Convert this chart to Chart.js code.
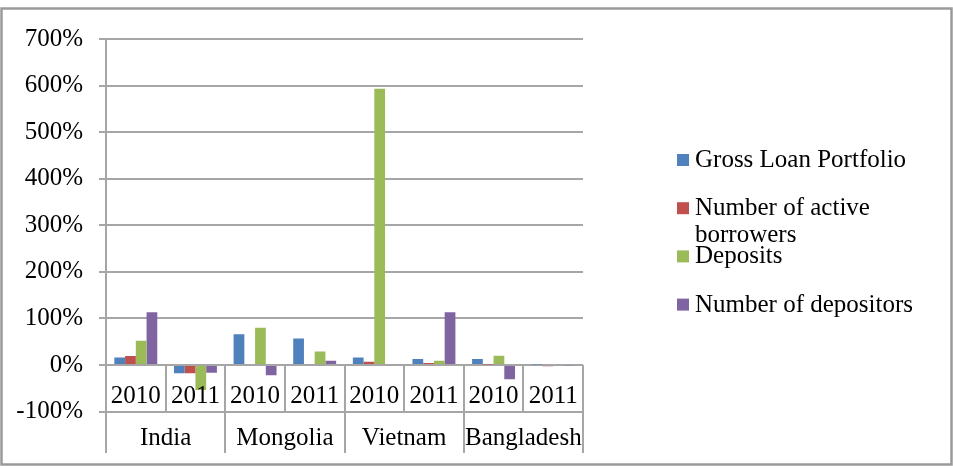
<!DOCTYPE html>
<html>
<head>
<meta charset="utf-8">
<script src="https://cdn.jsdelivr.net/npm/chart.js@4"></script>
<style>
  html, body { margin: 0; padding: 0; background: #fff; }
  #wrap { width: 953px; height: 468px; position: relative; }
</style>
</head>
<body>
<div id="wrap"><canvas id="chart" width="953" height="468"></canvas></div>
<script>
// Data
const countries = ['India', 'Mongolia', 'Vietnam', 'Bangladesh'];
const years = ['2010', '2011'];
const seriesNames = ['Gross Loan Portfolio', 'Number of active borrowers', 'Deposits', 'Number of depositors'];
const seriesColors = ['#4F81BD', '#C0504D', '#9BBB59', '#8064A2'];
const grossLoan = [16, -18, 66, 57, 16, 13, 13, 1];
const activeBorrowers = [19, -18, 0, 0, 7, 4, 1, -3];
const deposits = [52, -54, 80, 29, 593, 9, 20, 0];
const depositors = [113, -17, -22, 9, 0, 113, -31, -2];
const yTicks = [-100, 0, 100, 200, 300, 400, 500, 600, 700];

// One category per country/year pair
const labels = [];
countries.forEach(c => years.forEach(y => labels.push(c + ' ' + y)));

const seriesValues = [grossLoan, activeBorrowers, deposits, depositors];
const FONT = '"Liberation Serif", "Times New Roman", serif';
const FONT_SIZE = 25;
const gridColor = '#a6a6a6';

// Draws the outer frame, the two-level category axis and the legend
const excelBits = {
    id: 'excelBits',
    afterDraw(chart) {
        const ctx = chart.ctx;
        const x = chart.scales.x;
        const y = chart.scales.y;
        const area = chart.chartArea;
        const y0 = y.getPixelForValue(0);
        const yRow = y.getPixelForValue(-100);
        const yBottom = 453;
        const catW = (area.right - area.left) / labels.length;

        ctx.save();
        // frame
        ctx.strokeStyle = '#9a9a9a';
        ctx.lineWidth = 2.5;
        ctx.strokeRect(1.5, 8.5, 950, 456);

        // separators in the label area
        ctx.strokeStyle = gridColor;
        ctx.lineWidth = 2;
        for (let i = 0; i <= labels.length; i++) {
            const px = Math.round(area.left + i * catW);
            ctx.beginPath();
            if (i % years.length === 0) {
                ctx.moveTo(px, i === 0 ? yRow : y0);
                ctx.lineTo(px, yBottom);
            } else {
                ctx.moveTo(px, y0);
                ctx.lineTo(px, yRow);
            }
            ctx.stroke();
        }

        // year and country labels
        ctx.fillStyle = '#000';
        ctx.font = FONT_SIZE + 'px ' + FONT;
        ctx.textAlign = 'center';
        ctx.textBaseline = 'alphabetic';
        labels.forEach((l, i) => {
            ctx.fillText(years[i % years.length], x.getPixelForValue(i), 403);
        });
        countries.forEach((c, i) => {
            const cx = area.left + (i * years.length + years.length / 2) * catW;
            ctx.fillText(c, cx, 445);
        });

        // legend
        ctx.textAlign = 'left';
        const legX = 677, textX = 695, maxW = 245;
        let base = 167;
        chart.data.datasets.forEach(ds => {
            ctx.fillStyle = ds.backgroundColor;
            ctx.fillRect(legX, base - 13, 12, 12);
            ctx.fillStyle = '#000';
            // simple word wrap
            const words = ds.label.split(' ');
            let line = '', ly = base;
            words.forEach(w => {
                const test = line ? line + ' ' + w : w;
                if (ctx.measureText(test).width > maxW && line) {
                    ctx.fillText(line, textX, ly);
                    line = w;
                    ly += 26.5;
                } else {
                    line = test;
                }
            });
            ctx.fillText(line, textX, ly);
            base += 48.2;
        });
        ctx.restore();
    }
};

new Chart(document.getElementById('chart'), {
    type: 'bar',
    data: {
        labels: labels,
        datasets: seriesNames.map((name, i) => ({
            label: name,
            data: seriesValues[i],
            backgroundColor: seriesColors[i],
            borderWidth: 0,
            categoryPercentage: 0.72,
            barPercentage: 1.0
        }))
    },
    options: {
        responsive: false,
        animation: false,
        layout: { padding: { left: 0, top: 39, right: 370, bottom: 56.5 } },
        plugins: {
            legend: { display: false },
            tooltip: { enabled: false }
        },
        scales: {
            x: {
                display: false,
                grid: { display: false }
            },
            y: {
                min: -100,
                max: 700,
                afterBuildTicks: scale => { scale.ticks = yTicks.map(v => ({ value: v })); },
                afterFit: scale => { scale.width = 106; },
                ticks: {
                    callback: v => v + '%',
                    color: '#000',
                    padding: 16,
                    font: { family: FONT, size: FONT_SIZE }
                },
                grid: { color: gridColor, lineWidth: 2, tickLength: 7 },
                border: { display: true, color: gridColor, width: 2 }
            }
        }
    },
    plugins: [excelBits]
});
</script>
</body>
</html>
